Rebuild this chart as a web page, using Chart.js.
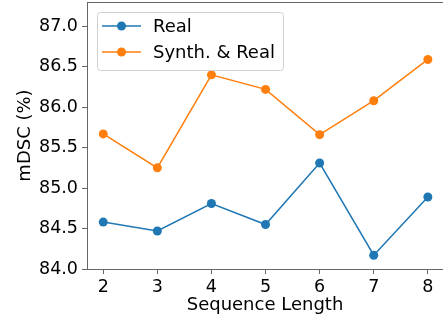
<!DOCTYPE html>
<html>
<head>
<meta charset="utf-8">
<script src="https://cdn.jsdelivr.net/npm/chart.js@4"></script>
<style>
  html, body { margin: 0; padding: 0; background: #fff; }
  #wrap { width: 443px; height: 320px; }
</style>
</head>
<body>
<div id="wrap"><canvas id="chart" width="443" height="320"></canvas></div>
<script>
const seqLengths = [2, 3, 4, 5, 6, 7, 8]
const realScores = [84.58, 84.47, 84.81, 84.55, 85.31, 84.17, 84.89]
const synthRealScores = [85.67, 85.25, 86.40, 86.22, 85.66, 86.08, 86.59]
const yTicks = [84.0, 84.5, 85.0, 85.5, 86.0, 86.5, 87.0]
const seriesNames = ["Real", "Synth. & Real"]

const FONT = "'DejaVu Sans', sans-serif"
const spineColor = "#666"

function toPoints(values) {
  return seqLengths.map((x, i) => ({ x: x, y: values[i] }))
}

// matplotlib-style legend box in the upper left of the axes
const boxLegend = {
  id: "boxLegend",
  afterDraw(chart) {
    const ctx = chart.ctx
    const x0 = 97, y0 = 12, w = 186, h = 58
    ctx.save()
    ctx.fillStyle = "rgba(255,255,255,0.8)"
    ctx.strokeStyle = "#d0d0d0"
    ctx.lineWidth = 1
    ctx.beginPath()
    ctx.roundRect(x0 + 0.5, y0 + 0.5, w, h, 3)
    ctx.fill()
    ctx.stroke()
    chart.data.datasets.forEach((ds, i) => {
      const y = 26 + i * 26
      ctx.strokeStyle = ds.borderColor
      ctx.lineWidth = 1.5
      ctx.beginPath()
      ctx.moveTo(102, y)
      ctx.lineTo(141, y)
      ctx.stroke()
      ctx.fillStyle = ds.borderColor
      ctx.beginPath()
      ctx.arc(121.5, y, 4.5, 0, Math.PI * 2)
      ctx.fill()
      ctx.fillStyle = "#000"
      ctx.font = "18px " + FONT
      ctx.textBaseline = "middle"
      ctx.fillText(ds.label, 153, y + 1)
    })
    ctx.restore()
  }
}

// top spine
const topSpine = {
  id: "topSpine",
  afterDraw(chart) {
    const a = chart.chartArea
    const ctx = chart.ctx
    ctx.save()
    ctx.strokeStyle = spineColor
    ctx.lineWidth = 1
    ctx.beginPath()
    ctx.moveTo(a.left, a.top + 0.5)
    ctx.lineTo(a.right, a.top + 0.5)
    ctx.stroke()
    ctx.restore()
  }
}

new Chart(document.getElementById("chart"), {
  type: "line",
  data: {
    datasets: [
      {
        label: seriesNames[0],
        data: toPoints(realScores),
        borderColor: "#1f77b4",
        backgroundColor: "#1f77b4",
        borderWidth: 1.5,
        pointRadius: 4.5,
        pointBorderWidth: 0,
        tension: 0
      },
      {
        label: seriesNames[1],
        data: toPoints(synthRealScores),
        borderColor: "#ff7f0e",
        backgroundColor: "#ff7f0e",
        borderWidth: 1.5,
        pointRadius: 4.5,
        pointBorderWidth: 0,
        tension: 0
      }
    ]
  },
  options: {
    responsive: false,
    animation: false,
    layout: { autoPadding: false, padding: { top: 2, right: 0, left: 0, bottom: 0 } },
    plugins: {
      legend: { display: false },
      tooltip: { enabled: false }
    },
    scales: {
      x: {
        type: "linear",
        min: 1.7,
        max: 8.28,
        afterBuildTicks: s => { s.ticks = seqLengths.map(v => ({ value: v })) },
        afterFit: s => { s.height = 51; s.paddingLeft = 0; s.paddingRight = 0 },
        border: { color: spineColor, width: 1 },
        grid: { drawOnChartArea: false, tickLength: 5, tickColor: spineColor },
        ticks: { color: "#000", font: { family: FONT, size: 17.5 }, padding: 3, maxRotation: 0 },
        title: {
          display: true,
          text: "Sequence Length",
          color: "#000",
          font: { family: FONT, size: 18 },
          padding: { top: 0, bottom: 4 }
        }
      },
      y: {
        min: 84.0,
        max: 87.3,
        afterBuildTicks: s => { s.ticks = yTicks.map(v => ({ value: v })) },
        afterFit: s => { s.width = 87; s.paddingTop = 0; s.paddingBottom = 0 },
        border: { color: spineColor, width: 1 },
        grid: { drawOnChartArea: false, tickLength: 5, tickColor: spineColor },
        ticks: {
          color: "#000",
          font: { family: FONT, size: 17.5 },
          padding: 4,
          callback: v => v.toFixed(1)
        },
        title: {
          display: true,
          text: "mDSC (%)",
          color: "#000",
          font: { family: FONT, size: 18 },
          padding: { top: 15, bottom: 0 }
        }
      }
    }
  },
  plugins: [topSpine, boxLegend]
})
</script>
</body>
</html>
